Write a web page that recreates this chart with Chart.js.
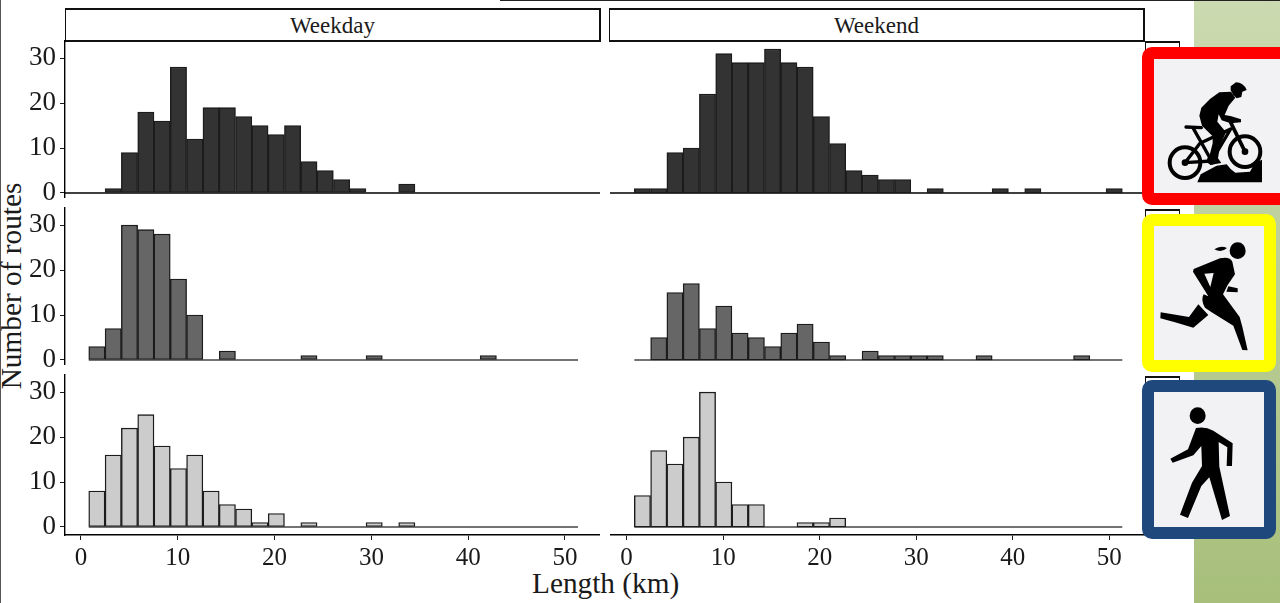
<!DOCTYPE html>
<html>
<head>
<meta charset="utf-8">
<title>Route length histograms</title>
<script src="https://cdn.jsdelivr.net/npm/chart.js@4"></script>
<style>
  html, body { margin: 0; padding: 0; background: #fff; }
  #page { position: relative; width: 1280px; height: 603px; overflow: hidden; font-family: "Liberation Serif", serif; color: #1a1a1a; }
  #page > * { position: absolute; }
  canvas { display: block; }
  .band { left: 1194px; top: 0; width: 86px; height: 603px; background: linear-gradient(#cbdab0, #a7bf7b); }
  .edge-top { left: 500px; top: 0; width: 780px; height: 1px; background: #222; }
  .edge-left { left: 0; top: 0; width: 1px; height: 603px; background: #555; }
  .strip { top: 8px; height: 30px; border: 2px solid #111; border-left-width: 1px; background: #fff; font-size: 23px; line-height: 31px; text-align: center; }
  .stub { left: 1145px; width: 33px; height: 20px; border: 1px solid #111; border-top-width: 2px; background: #fff; }
  .axis-title { font-size: 29.3px; white-space: nowrap; line-height: 32px; }
</style>
</head>
<body>
<div id="page">
  <div class="band"></div>
  <div class="edge-top"></div>
  <div class="edge-left"></div>
  <div class="stub" style="top:41px"></div>
  <div class="stub" style="top:209px"></div>
  <div class="stub" style="top:376px"></div>
  <div class="strip" style="left:65px;width:533px">Weekday</div>
  <div class="strip" style="left:609px;width:533px">Weekend</div>
  <div class="axis-title" style="left:532px;top:567px">Length (km)</div>
  <div class="axis-title" style="left:-93px;top:270px;width:208px;text-align:center;transform:rotate(-90deg)">Number of routes</div>

  <svg width="1280" height="603" style="left:0;top:0">
    <rect x="1148" y="53" width="150" height="146" rx="4" fill="#f2f2f4" stroke="#ff0000" stroke-width="12"/>
    <rect x="1148" y="220" width="122" height="146" rx="4" fill="#f2f2f4" stroke="#ffff00" stroke-width="12"/>
    <rect x="1148" y="386" width="122" height="147" rx="4" fill="#f2f2f4" stroke="#1f497d" stroke-width="12"/>

    <!-- cyclist, drawn in the 3x coordinates of the crop -->
    <g transform="translate(1160 75) scale(0.3333)" fill="#000" stroke="none">
      <path d="M112 322 L122 298 L170 272 L200 268 L212 282 L226 293 L270 290 L284 264 L306 254 L306 322 Z"/>
      <circle cx="75" cy="263" r="46" fill="none" stroke="#000" stroke-width="12"/>
      <circle cx="255" cy="230" r="46" fill="none" stroke="#000" stroke-width="12"/>
      <circle cx="75" cy="263" r="10"/>
      <circle cx="255" cy="230" r="10"/>
      <circle cx="155" cy="255" r="14"/>
      <g fill="none" stroke="#000" stroke-width="10" stroke-linecap="round" stroke-linejoin="round">
        <path d="M78 156 L124 158" stroke-width="10"/>
        <path d="M100 160 L155 258"/>
        <path d="M75 263 L155 258 L212 162 L120 205 L75 263"/>
        <path d="M212 142 L255 230" stroke-width="11"/>
      </g>
      <path d="M228 22 Q250 22 260 45 L247 50 L244 66 L230 70 L220 60 L212 46 L212 34 Z"/>
      <path d="M213 50 L226 68 L206 92 L194 120 L214 124 L243 133 L243 142 L212 145 L185 136 L176 118 L172 140 L198 172 L180 212 L174 250 L184 264 L150 270 L146 252 L158 205 L158 184 L126 152 L118 122 L124 98 L150 72 L178 52 Z"/>
    </g>

    <!-- runner -->
    <g transform="translate(1155 235) scale(0.3333)" fill="#000" stroke="none">
      <ellipse cx="248" cy="47" rx="24" ry="25"/>
      <path d="M178 43 Q196 30 216 39 Q200 54 178 43 Z"/>
      <path d="M116 102 L195 70 Q225 64 232 80 L240 118 L218 150 L204 178 L254 246 L262 275 L278 346 L262 345 L235 272 L170 232 L150 218 Q136 195 146 178 L160 184 L114 110 Z M148 116 L166 156 L176 114 Z"/>
      <path d="M220 154 L248 160 L248 172 L214 170 Z"/>
      <path d="M130 208 L160 240 L115 278 L60 262 L16 250 L17 232 L102 246 Z"/>
    </g>

    <!-- walker -->
    <g transform="translate(1160 400) scale(0.3333)" fill="#000" stroke="none">
      <ellipse cx="113" cy="47" rx="24" ry="25"/>
      <path d="M108 84 Q135 78 160 92 L218 130 L216 198 L200 198 L202 142 L176 126 L178 200 L210 348 L186 360 L148 232 L124 258 L84 354 L60 344 L96 248 L126 198 L124 138 L100 166 L38 188 L31 176 L84 148 Z"/>
    </g>
  </svg>
</div>

<script>
// Histogram bins (30 bins, centre of each bin in km)
const binCentres = [1.64, 3.33, 5.01, 6.70, 8.38, 10.07, 11.75, 13.44, 15.12, 16.81,
  18.49, 20.18, 21.86, 23.55, 25.23, 26.92, 28.60, 30.29, 31.97, 33.66,
  35.34, 37.03, 38.71, 40.40, 42.08, 43.77, 45.45, 47.14, 48.82, 50.51];
const baselineEnds = [0.8, 51.35];
const xTicks = [0, 10, 20, 30, 40, 50];
const yTicks = [0, 10, 20, 30];

// Counts
const bikeWeekday = [0, 1, 9, 18, 16, 28, 12, 19, 19, 17, 15, 13, 15, 7, 5, 3, 1, 0, 0, 2, 0, 0, 0, 0, 0, 0, 0, 0, 0, 0];
const bikeWeekend = [1, 1, 9, 10, 22, 31, 29, 29, 32, 29, 28, 17, 11, 5, 4, 3, 3, 0, 1, 0, 0, 0, 1, 0, 1, 0, 0, 0, 0, 1];
const runWeekday = [3, 7, 30, 29, 28, 18, 10, 0, 2, 0, 0, 0, 0, 1, 0, 0, 0, 1, 0, 0, 0, 0, 0, 0, 1, 0, 0, 0, 0, 0];
const runWeekend = [0, 5, 15, 17, 7, 12, 6, 5, 3, 6, 8, 4, 1, 0, 2, 1, 1, 1, 1, 0, 0, 1, 0, 0, 0, 0, 0, 1, 0, 0];
const walkWeekday = [8, 16, 22, 25, 18, 13, 16, 8, 5, 4, 1, 3, 0, 1, 0, 0, 0, 1, 0, 1, 0, 0, 0, 0, 0, 0, 0, 0, 0, 0];
const walkWeekend = [7, 17, 14, 20, 30, 10, 5, 5, 0, 0, 1, 1, 2, 0, 0, 0, 0, 0, 0, 0, 0, 0, 0, 0, 0, 0, 0, 0, 0, 0];

const SERIF = '"Liberation Serif", serif';
const INK = '#1a1a1a';
const LABEL_ROOM = 16; // spare canvas above and below a panel, for tick labels

// One panel = one chart. px values are the panel's place on the page.
function histogram({ counts, fill, top, bottom, left, right, yRange, xRange, showY, showX, fullBaseline }) {
  const canvas = document.createElement('canvas');
  const axisWidth = showY ? 65 : 0;
  const axisHeight = showX ? 44 : 0;
  const pad = LABEL_ROOM;
  const width = right - (showY ? 0 : left);
  const height = bottom - top + pad + (showX ? axisHeight : pad);
  canvas.width = width;
  canvas.height = height;
  canvas.style.position = 'absolute';
  canvas.style.left = (showY ? 0 : left) + 'px';
  canvas.style.top = (top - pad) + 'px';
  document.getElementById('page').insertBefore(canvas, document.querySelector('#page svg'));

  const base = fullBaseline
    ? { ends: xRange, color: '#000', w: 1.6 }
    : { ends: baselineEnds, color: '#444', w: 1.5 };

  new Chart(canvas, {
    type: 'bar',
    data: {
      datasets: [
        {
          data: binCentres.map((x, i) => ({ x, y: counts[i] })),
          backgroundColor: fill,
          borderColor: '#1c1c1c',
          borderWidth: 1.4,
          borderSkipped: false,
          barPercentage: 1,
          categoryPercentage: 1,
          order: 1
        },
        {
          type: 'line',
          data: base.ends.map(x => ({ x, y: 0 })),
          borderColor: base.color,
          borderWidth: base.w,
          pointRadius: 0,
          order: 2
        }
      ]
    },
    options: {
      responsive: false,
      animation: false,
      layout: { padding: { top: pad, bottom: showX ? 0 : pad, left: 0, right: 0 } },
      plugins: { legend: { display: false }, tooltip: { enabled: false } },
      scales: {
        x: {
          type: 'linear',
          display: showX,
          offset: false,
          min: xRange[0],
          max: xRange[1],
          afterBuildTicks: s => { s.ticks = xTicks.map(value => ({ value })); },
          afterFit: s => { s.height = axisHeight; s.paddingLeft = 0; s.paddingRight = 0; },
          grid: { offset: false, drawOnChartArea: false, tickLength: 5, tickColor: INK },
          border: { display: true, color: '#000', width: 1.6 },
          ticks: { font: { family: SERIF, size: 25 }, color: INK, padding: 3, maxRotation: 0, autoSkip: false }
        },
        y: {
          display: showY,
          min: yRange[0],
          max: yRange[1],
          afterBuildTicks: s => { s.ticks = yTicks.map(value => ({ value })); },
          afterFit: s => { s.width = axisWidth; s.paddingTop = 0; s.paddingBottom = 0; },
          grid: { drawOnChartArea: false, tickLength: 5, tickColor: INK },
          border: { display: true, color: '#000', width: 1.4 },
          ticks: { font: { family: SERIF, size: 27 }, color: INK, padding: 4, autoSkip: false }
        }
      }
    }
  });
}

const LEFT_COL = { left: 65, right: 600, xRange: [-1.653, 53.62], showY: true };
const RIGHT_COL = { left: 610, right: 1145, xRange: [-1.72, 53.70], showY: false };
const ROW_BIKE = { top: 41, bottom: 197, yRange: [-0.89, 33.8], showX: false, fullBaseline: true };
const ROW_RUN = { top: 208, bottom: 364, yRange: [-0.89, 33.8], showX: false, fullBaseline: false };
const ROW_WALK = { top: 375, bottom: 535, yRange: [-1.78, 33.8], showX: true, fullBaseline: false };

histogram({ counts: bikeWeekday, fill: '#333333', ...LEFT_COL, ...ROW_BIKE });
histogram({ counts: bikeWeekend, fill: '#333333', ...RIGHT_COL, ...ROW_BIKE });
histogram({ counts: runWeekday, fill: '#666666', ...LEFT_COL, ...ROW_RUN });
histogram({ counts: runWeekend, fill: '#666666', ...RIGHT_COL, ...ROW_RUN });
histogram({ counts: walkWeekday, fill: '#cccccc', ...LEFT_COL, ...ROW_WALK });
histogram({ counts: walkWeekend, fill: '#cccccc', ...RIGHT_COL, ...ROW_WALK });
</script>
</body>
</html>
